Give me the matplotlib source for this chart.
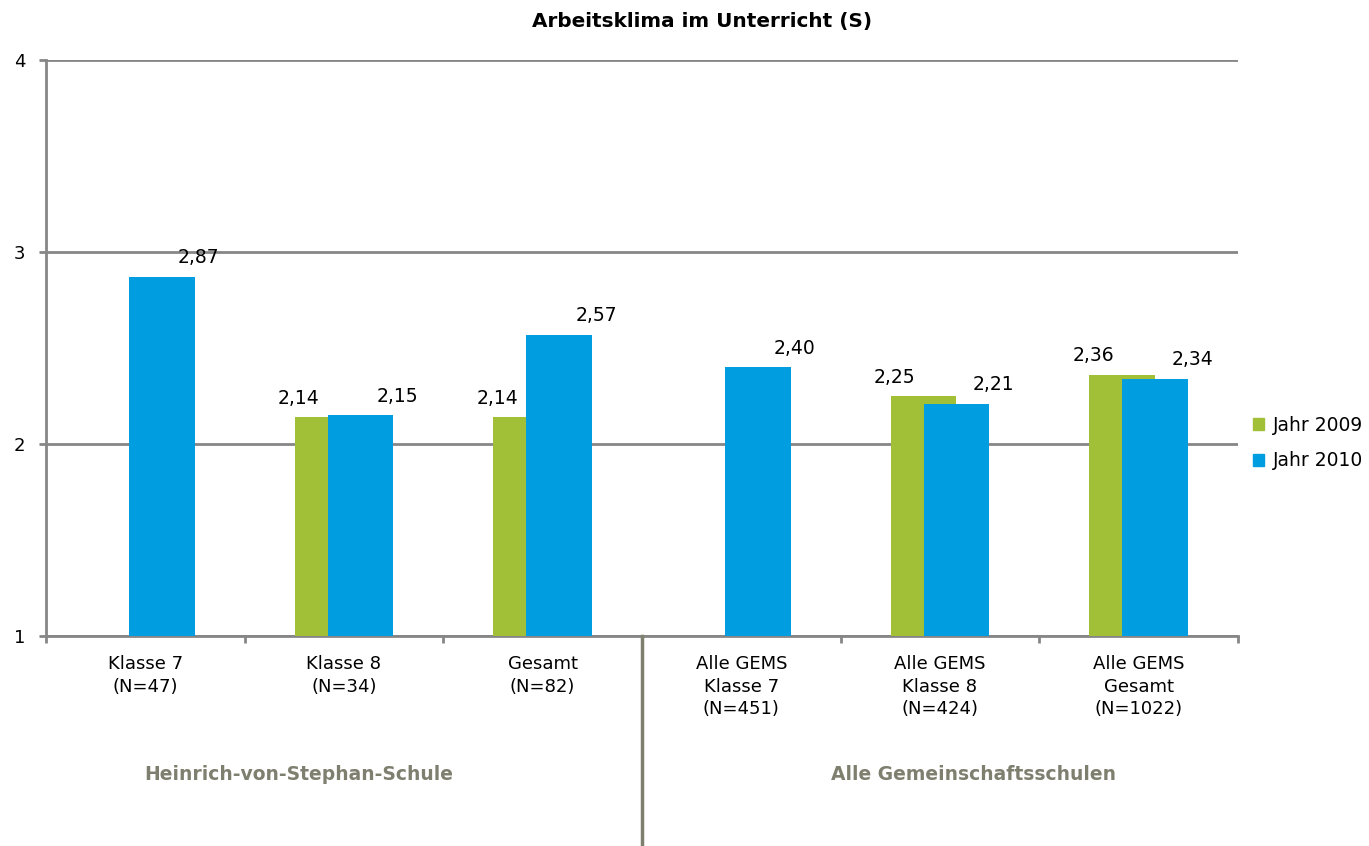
import numpy as np
import matplotlib
matplotlib.use("Agg")
import matplotlib.pyplot as plt
import matplotlib.patches as mpatches
import matplotlib.transforms as mtransforms

# Daten
categories = ["Klasse 7\n(N=47)", "Klasse 8\n(N=34)", "Gesamt\n(N=82)",
              "Alle GEMS\nKlasse 7\n(N=451)", "Alle GEMS\nKlasse 8\n(N=424)",
              "Alle GEMS\nGesamt\n(N=1022)"]
jahr_2009 = [np.nan, 2.14, 2.14, np.nan, 2.25, 2.36]
jahr_2010 = [2.87, 2.15, 2.57, 2.40, 2.21, 2.34]
series_labels = ["Jahr 2009", "Jahr 2010"]
group_labels = ["Heinrich-von-Stephan-Schule", "Alle Gemeinschaftsschulen"]
title = "Arbeitsklima im Unterricht (S)"

color_2009 = "#A2C037"
color_2010 = "#009EE0"
grid_color = "#868686"
group_color = "#7F7F6F"

plt.rcParams['font.family'] = ['DejaVu Sans']

W, H = 1369, 846
fig = plt.figure(figsize=(W / 100, H / 100), dpi=100)
ax = fig.add_axes([46 / W, (H - 636) / H, (1238 - 46) / W, (636 - 60) / H])

x = np.arange(len(categories))
bw = 0.332
off = 0.083
ax.bar(x - off, jahr_2009, bw, color=color_2009, zorder=3)
ax.bar(x + off, jahr_2010, bw, color=color_2010, zorder=4)

# Werte beschriften
for xi, v in zip(x, jahr_2009):
    if not np.isnan(v):
        ax.annotate(f"{v:.2f}".replace(".", ","), (xi - off, v),
                    xytext=(-29, 19), textcoords="offset pixels",
                    ha="center", va="center", fontsize=13.5, zorder=6)
for xi, v in zip(x, jahr_2010):
    ax.annotate(f"{v:.2f}".replace(".", ","), (xi + off, v),
                xytext=(37, 19), textcoords="offset pixels",
                ha="center", va="center", fontsize=13.5, zorder=6)

ax.set_xlim(-0.5, len(categories) - 0.5)
ax.set_ylim(1, 4)
ax.set_yticks([1, 2, 3, 4])
ax.set_yticklabels(["1", "2", "3", "4"], fontsize=13)
ax.yaxis.grid(True, color=grid_color, linewidth=2, zorder=1)
ax.set_axisbelow(True)

ax.set_xticks(x)
ax.set_xticklabels(categories, fontsize=13, linespacing=1.3)
ax.set_xticks(np.arange(len(categories) + 1) - 0.5, minor=True)
ax.tick_params(axis="x", which="major", length=0, pad=14)
ax.tick_params(axis="x", which="minor", length=5, width=2, color=grid_color)
ax.tick_params(axis="y", length=5, width=2, color=grid_color, pad=10)

for side in ["top", "right"]:
    ax.spines[side].set_visible(False)
for side in ["left", "bottom"]:
    ax.spines[side].set_color(grid_color)
    ax.spines[side].set_linewidth(2)

# Trennlinie zwischen den Gruppen
trans = mtransforms.blended_transform_factory(ax.transData, ax.transAxes)
ax.plot([2.5, 2.5], [0, -0.37], transform=trans, color=group_color,
        linewidth=2.5, clip_on=False, zorder=5)

for gx, lab in zip([0.77, 4.17], group_labels):
    ax.text(gx, -0.24, lab, transform=trans, ha="center", va="center",
            fontsize=13.5, fontweight="bold", color=group_color)

fig.text(702 / W, 1 - 22 / H, title, ha="center", va="center",
         fontsize=14.4, fontweight="bold")

handles = [mpatches.Patch(color=color_2009, label=series_labels[0]),
           mpatches.Patch(color=color_2010, label=series_labels[1])]
fig.legend(handles=handles, loc="center left",
           bbox_to_anchor=(1236 / W, 1 - 443 / H), frameon=False,
           fontsize=13.5, handlelength=0.6, handleheight=0.6,
           handletextpad=0.45, labelspacing=0.9)

fig.savefig("out.png", dpi=100)
